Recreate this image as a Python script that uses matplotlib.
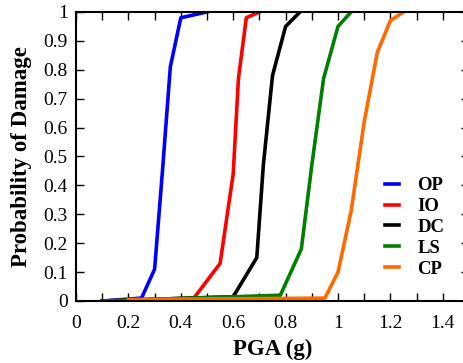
import numpy as np
import matplotlib
matplotlib.use("Agg")
import matplotlib.pyplot as plt
from matplotlib.ticker import MultipleLocator

plt.rcParams['font.family'] = ['Liberation Serif', 'DejaVu Serif']

# fragility curves
op_x = [0.1, 0.25, 0.3, 0.33, 0.36, 0.4, 0.5]
op_p = [0.0, 0.01, 0.11, 0.45, 0.81, 0.98, 1.0]
io_x = [0.1, 0.45, 0.55, 0.6, 0.62, 0.65, 0.7]
io_p = [0.0, 0.01, 0.13, 0.44, 0.77, 0.98, 1.0]
dc_x = [0.1, 0.6, 0.69, 0.715, 0.75, 0.8, 0.855]
dc_p = [0.0, 0.015, 0.15, 0.47, 0.78, 0.95, 1.0]
ls_x = [0.1, 0.78, 0.86, 0.9, 0.945, 1.0, 1.05]
ls_p = [0.0, 0.02, 0.18, 0.47, 0.77, 0.95, 1.0]
cp_x = [0.2, 0.95, 1.0, 1.05, 1.1, 1.15, 1.2, 1.25]
cp_p = [0.005, 0.01, 0.1, 0.31, 0.62, 0.86, 0.97, 1.0]

labels = ['OP', 'IO', 'DC', 'LS', 'CP']
colors = ['#0000ff', '#ff0000', '#000000', '#008000', '#ff6a00']
series = [(op_x, op_p), (io_x, io_p), (dc_x, dc_p), (ls_x, ls_p), (cp_x, cp_p)]

fig = plt.figure(figsize=(4.64, 3.63), dpi=100)
ax = fig.add_axes([0.1638, 0.1708, 0.847, 0.7962])

for (x, p), c, lab in zip(series, colors, labels):
    ax.plot(x, p, color=c, lw=2.6, label=lab)

ax.set_xlim(0, 1.5)
ax.set_ylim(0, 1)
ax.xaxis.set_minor_locator(MultipleLocator(0.1))
ax.set_xticks(np.arange(0, 1.41, 0.2))
ax.set_xticklabels(['0', '0.2', '0.4', '0.6', '0.8', '1', '1.2', '1.4'])
ax.set_yticks(np.arange(0, 1.01, 0.1))
ax.set_yticklabels(['0', '0.1', '0.2', '0.3', '0.4', '0.5', '0.6', '0.7', '0.8', '0.9', '1'])
ax.tick_params(which='both', direction='in', top=True, right=True, length=6, width=1,
               labelsize=14, pad=6)
ax.tick_params(axis='x', which='major', pad=10)
for s in ax.spines.values():
    s.set_linewidth(1.5)

ax.set_xlabel('PGA (g)', fontsize=16.5, fontweight='bold', labelpad=5)
ax.set_ylabel('Probability of Damage', fontsize=16.5, fontweight='bold', labelpad=8)

leg = ax.legend(loc='lower right', bbox_to_anchor=(0.98, 0.022), frameon=False,
                prop={'weight': 'bold', 'size': 13.5}, handlelength=0.7,
                handletextpad=1.0, labelspacing=0.2)

fig.savefig('out.png', dpi=100)
